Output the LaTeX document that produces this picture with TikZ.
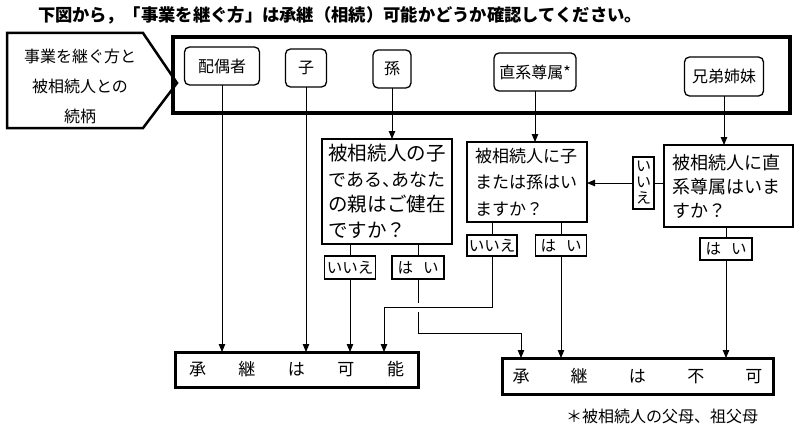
\documentclass[tikz,border=0pt]{standalone}
\usepackage{fontspec}
\setmainfont{Noto Sans CJK JP}
\usetikzlibrary{arrows.meta,calc}
\makeatletter
\def\spreadit#1{\spr@a#1\@nil}
\def\spr@a#1#2\@nil{#1\ifx\relax#2\relax\else\hfil\spr@a#2\@nil\fi}
\makeatother
\tikzset{
  x=1pt, y=-1pt,
  every node/.style={inner sep=0pt, outer sep=0pt},
  rbox/.style={draw, rounded corners=5pt, line width=1.3pt, minimum height=38pt, font=\fontsize{16}{16}\selectfont},
  qbox/.style={draw, line width=1.3pt, align=left},
  lbox/.style={draw, line width=1.2pt, font=\fontsize{15.5}{15.5}\selectfont},
  resbox/.style={draw, line width=3pt, font=\fontsize{17}{17}\selectfont},
  conn/.style={line width=0.9pt},
  arr/.style={conn, -{Triangle[length=8pt,width=6.5pt]}},
}
\begin{document}
\begin{tikzpicture}
\useasboundingbox (0,0) rectangle (800,428);
\fill[white] (0,0) rectangle (800,428);

% title
\node[anchor=west, font=\fontsize{17.3}{17.3}\selectfont\bfseries] (title) at (38,15)
  {下図から，「事業を継ぐ方」は承継（相続）可能かどうか確認してください。};

% left pentagon label
\draw[line width=2.5pt, line join=miter] (7,33) -- (143,33) -- (177,83) -- (143,128) -- (7,128) -- cycle;
\node[align=center, font=\fontsize{16}{30}\selectfont] (rel) at (80,86) {事業を継ぐ方と\\被相続人との\\続柄};

% main box
\node[draw, line width=4pt, minimum width=617pt, minimum height=76pt] (mainbox) at (481.5,75) {};

% relation boxes
\node[rbox, minimum width=75pt] (spouse) at (222,66) {配偶者};
\node[rbox, minimum width=41pt] (child) at (306,68) {子};
\node[rbox, minimum width=38pt] (grand) at (392,69) {孫};
\node[rbox, minimum width=82pt] (asc) at (535,72) {直系尊属*};
\node[rbox, minimum width=79pt, minimum height=39pt] (sib) at (724,76.5) {兄弟姉妹};

% question boxes
\node[qbox, minimum width=130pt, minimum height=105pt, text width=118pt, inner xsep=6pt,
      font=\fontsize{19.5}{25.5}\selectfont] (q1) at (387,191.5)
  {\makebox[118pt][s]{\spreadit{被相続人の子}}\\
   \makebox[118pt][s]{\fontsize{18}{25.5}\selectfont\spreadit{である}\hfil\makebox[9pt][l]{、}\hfil\spreadit{あなた}}\\
   \makebox[118pt][s]{\spreadit{の親はご健在}}\\ですか？};
\node[qbox, minimum width=120pt, minimum height=80pt, text width=104pt, inner xsep=8pt,
      font=\fontsize{17}{26.5}\selectfont] (q2) at (527,182)
  {被相続人に子\\または孫はい\\ますか？};
\node[qbox, minimum width=129pt, minimum height=82pt, text width=113pt, inner xsep=8pt,
      font=\fontsize{18}{24}\selectfont] (q3) at (728.5,186)
  {被相続人に直\\系尊属はいま\\すか？};

% answer labels
\node[lbox, minimum width=51pt, minimum height=23pt] (q1no) at (350,267.5) {いいえ};
\node[lbox, minimum width=52pt, minimum height=23pt] (q1yes) at (418,267.5) {は\hspace{10pt}い};
\node[lbox, minimum width=50pt, minimum height=21pt] (q2no) at (492,245.5) {いいえ};
\node[lbox, minimum width=51pt, minimum height=21pt] (q2yes) at (561,245.5) {は\hspace{10pt}い};
\node[lbox, minimum width=52pt, minimum height=22pt] (q3yes) at (726,249) {は\hspace{10pt}い};
\node[lbox, align=center, minimum width=21pt, minimum height=52pt, font=\fontsize{15}{16}\selectfont] (q3no) at (643.5,183) {い\\い\\え};

% result boxes
\node[resbox, minimum width=243pt, minimum height=35pt] (ok) at (296.5,369.5)
  {\makebox[215pt][s]{\spreadit{承継は可能}}};
\node[resbox, minimum width=271pt, minimum height=36pt] (ng) at (637.5,376)
  {\makebox[250pt][s]{\spreadit{承継は不可}}};

% footnote
\node[anchor=west, font=\fontsize{16}{16}\selectfont] (note) at (566,416) {＊被相続人の父母、祖父母};

% connectors
\draw[arr] (spouse.south) -- (spouse.south |- ok.north);
\draw[arr] (child.south) -- (child.south |- ok.north);
\draw[arr] (grand.south) -- (grand.south |- q1.north);
\draw[arr] (asc.south) -- (asc.south |- q2.north);
\draw[arr] (sib.south) -- (sib.south |- q3.north);

\draw[conn] (q3no.east -| q3.west) -- (q3no.east);
\draw[arr] (q3no.west) -- (q3no.west -| q2.east);

\draw[conn] (q1no.north |- q1.south) -- (q1no.north);
\draw[arr] (q1no.south) -- (q1no.south |- ok.north);
\draw[conn] (q1yes.north |- q1.south) -- (q1yes.north);
\coordinate (j1) at (521,333);
\draw[arr] (q1yes.south) |- (j1) -- (j1 |- ng.north);

\draw[conn] (q2no.north |- q2.south) -- (q2no.north);
\coordinate (j2) at (384,307);
\draw[white, line width=9pt] (q2no.south |- j2) -- (j2);
\draw[arr] (q2no.south) |- (j2) -- (j2 |- ok.north);

\draw[conn] (q2yes.north |- q2.south) -- (q2yes.north);
\draw[arr] (q2yes.south) -- (q2yes.south |- ng.north);
\draw[conn] (q3yes.north |- q3.south) -- (q3yes.north);
\draw[arr] (q3yes.south) -- (q3yes.south |- ng.north);
\end{tikzpicture}
\end{document}
